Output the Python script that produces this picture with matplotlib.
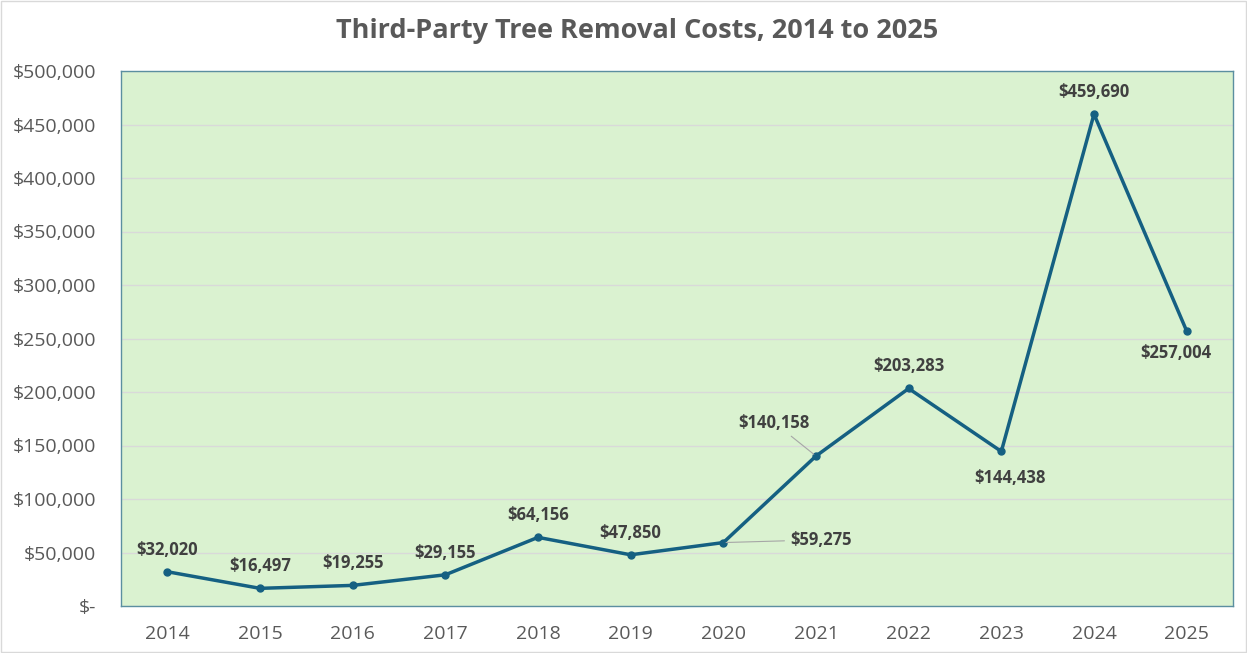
import matplotlib.pyplot as plt
from matplotlib.patches import Rectangle
from matplotlib.ticker import FuncFormatter

years = ['2014', '2015', '2016', '2017', '2018', '2019',
         '2020', '2021', '2022', '2023', '2024', '2025']
costs = [32020, 16497, 19255, 29155, 64156, 47850,
         59275, 140158, 203283, 144438, 459690, 257004]

# label offsets in points (dx, dy), and whether a leader line is drawn
offsets = {6: (48, 2), 7: (-30, 24), 9: (6, -19), 10: (0, 16), 11: (-8, -16)}
leaders = {6, 7}

plt.rcParams['font.family'] = ['Open Sans', 'DejaVu Sans']

fig = plt.figure(figsize=(12.47, 6.53), dpi=100)
ax = fig.add_axes([121 / 1247, 47 / 653, 1112 / 1247, 535 / 653])
fig.patches.append(Rectangle((0.001, 0.001), 0.998, 0.998, transform=fig.transFigure,
                             fill=False, edgecolor='#d9d9d9', linewidth=1))

x = list(range(len(years)))
ax.set_facecolor('#daf2d0')
ax.plot(x, costs, '-o', color='#156082', linewidth=2.5, markersize=5, zorder=3)

for i, v in enumerate(costs):
    dx, dy = offsets.get(i, (0, 16))
    ha = 'left' if i == 6 else 'center'
    arrow = dict(arrowstyle='-', color='#a6a6a6', lw=0.8) if i in leaders else None
    ax.annotate(f'${v:,}', (i, v), xytext=(dx, dy), textcoords='offset points',
                ha=ha, va='center', fontsize=12, fontweight='bold', color='#404040',
                arrowprops=arrow, zorder=4)

ax.set_xlim(-0.5, 11.5)
ax.set_ylim(0, 500000)
ax.set_xticks(x)
ax.set_xticklabels(years)
ax.set_yticks(range(0, 500001, 50000))
ax.yaxis.set_major_formatter(FuncFormatter(lambda v, p: '$-' if v == 0 else f'${v:,.0f}'))
ax.tick_params(length=0, labelsize=14, colors='#595959')
ax.tick_params(axis='x', pad=14)
ax.tick_params(axis='y', pad=18)
ax.grid(axis='y', color='#d9d9d9', linewidth=1)
ax.set_axisbelow(True)
for s in ax.spines.values():
    s.set_color('#5b8fa0')
    s.set_linewidth(1)

fig.text(637 / 1247, 1 - 31 / 653, 'Third-Party Tree Removal Costs, 2014 to 2025',
         ha='center', va='center', fontsize=19.5, fontweight='bold', color='#595959')

fig.savefig('out.png', dpi=100)
